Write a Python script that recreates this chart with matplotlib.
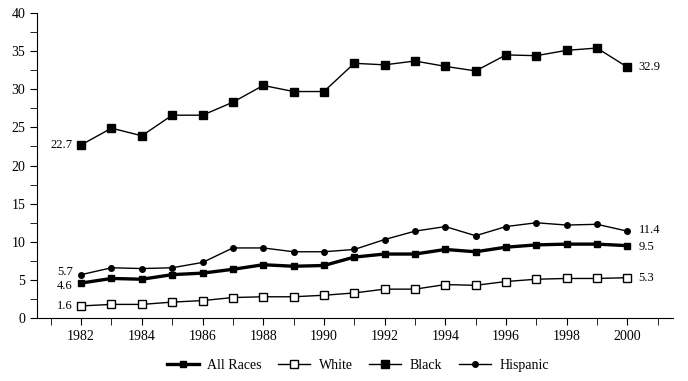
import matplotlib.pyplot as plt
from matplotlib.ticker import MultipleLocator

plt.rcParams['font.family'] = ['Liberation Serif', 'DejaVu Serif']

years = list(range(1982, 2001))
all_races = [4.6, 5.2, 5.1, 5.7, 5.9, 6.4, 7.0, 6.8, 6.9, 8.0, 8.4, 8.4, 9.0, 8.7, 9.3, 9.6, 9.7, 9.7, 9.5]
white = [1.6, 1.8, 1.8, 2.1, 2.3, 2.7, 2.8, 2.8, 3.0, 3.3, 3.8, 3.8, 4.4, 4.3, 4.8, 5.1, 5.2, 5.2, 5.3]
black = [22.7, 24.9, 23.9, 26.6, 26.6, 28.3, 30.5, 29.7, 29.7, 33.4, 33.2, 33.7, 33.0, 32.4, 34.5, 34.4, 35.1, 35.4, 32.9]
hispanic = [5.7, 6.6, 6.5, 6.6, 7.3, 9.2, 9.2, 8.7, 8.7, 9.0, 10.3, 11.4, 12.0, 10.8, 12.0, 12.5, 12.2, 12.3, 11.4]

fig = plt.figure(figsize=(6.88, 3.81), dpi=100)
ax = fig.add_axes([0.054, 0.165, 0.924, 0.801])

ax.plot(years, all_races, color='black', lw=2.4, marker='s', ms=5, mfc='black', label='All Races')
ax.plot(years, white, color='black', lw=1, marker='s', ms=6, mfc='white', mec='black', label='White')
ax.plot(years, black, color='black', lw=1, marker='s', ms=6, mfc='black', label='Black')
ax.plot(years, hispanic, color='black', lw=1, marker='o', ms=4, mfc='black', label='Hispanic')

# end labels (small vertical nudges where the start values crowd together)
left_dy = {'black': 0, 'hispanic': 2, 'all': -2, 'white': 0}
right_dy = {'black': 0, 'hispanic': 1, 'all': -1, 'white': 0}
for key, series in (('black', black), ('hispanic', hispanic), ('all', all_races), ('white', white)):
    ax.annotate(f'{series[0]:.1f}', (years[0], series[0]), xytext=(-6, left_dy[key]),
                textcoords='offset points', ha='right', va='center', fontsize=9)
    ax.annotate(f'{series[-1]:.1f}', (years[-1], series[-1]), xytext=(8, right_dy[key]),
                textcoords='offset points', ha='left', va='center', fontsize=9)

ax.set_xlim(1980.55, 2001.5)
ax.set_ylim(0, 40)
ax.set_xticks(range(1982, 2001, 2))
ax.xaxis.set_minor_locator(MultipleLocator(1))
ax.yaxis.set_major_locator(MultipleLocator(5))
ax.yaxis.set_minor_locator(MultipleLocator(2.5))
ax.tick_params(which='both', direction='out', labelsize=10, length=5)
ax.spines['top'].set_visible(False)
ax.spines['right'].set_visible(False)

fig.legend(loc='lower center', bbox_to_anchor=(0.52, -0.01), ncol=4, frameon=False,
           fontsize=10, handlelength=2.3, handletextpad=0.6, columnspacing=1.2)

fig.savefig('out.png', dpi=100)
